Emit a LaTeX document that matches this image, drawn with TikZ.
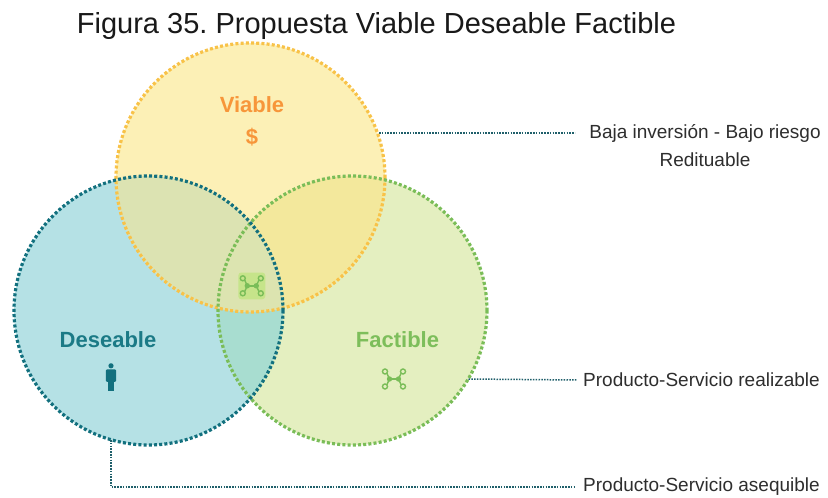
\documentclass[tikz,border=0pt]{standalone}
\usepackage{fontspec}
\setmainfont{Liberation Sans}
\frenchspacing
\definecolor{vAlone}{HTML}{FCF0B6}
\definecolor{dAlone}{HTML}{B5E1E5}
\definecolor{fAlone}{HTML}{E4EFC0}
\definecolor{dfCol}{HTML}{A8DDD0}
\definecolor{dvCol}{HTML}{DCE3B2}
\definecolor{fvCol}{HTML}{F3E89C}
\definecolor{dfvCol}{HTML}{DCE4B0}
\definecolor{vLine}{HTML}{F8C248}
\definecolor{dLine}{HTML}{12707E}
\definecolor{fLine}{HTML}{7ABD58}
\definecolor{vText}{HTML}{F7963A}
\definecolor{dText}{HTML}{1B7A86}
\definecolor{fText}{HTML}{7DBE5B}
\definecolor{leadCol}{HTML}{1F5F6A}
\definecolor{lblText}{HTML}{2E2E2E}
\definecolor{iconBox}{HTML}{C6E48A}
\tikzset{
  ring/.style={line width=3.2pt, dash pattern=on 3pt off 2.2pt},
  leader/.style={draw=leadCol, line width=1.5pt, dash pattern=on 1.5pt off 1.3pt},
  title/.style={font=\fontsize{29}{34}\selectfont, text=black!90},
  setname/.style={font=\fontsize{22}{26}\selectfont\bfseries},
  lbl/.style={font=\fontsize{19}{28}\selectfont, text=lblText, align=center, inner sep=0pt},
}
\newcommand{\droneicon}[2]{%
  \begin{scope}[shift={(#1,#2)}]
    \draw[fLine, line width=1.4pt] (-7.2,-5.9) -- (-4.5,0) -- (-7.2,5.9);
    \draw[fLine, line width=1.4pt] (7.2,-5.9) -- (4.5,0) -- (7.2,5.9);
    \draw[fLine, line width=1.8pt] (-4.5,0) -- (4.5,0);
    \fill[fLine] (-4.5,0) circle (2.7);
    \fill[fLine] (4.5,0) circle (2.7);
    \foreach \sx in {-9,9} \foreach \sy in {-7.5,7.5}
      \draw[fLine, line width=1.4pt] (\sx,\sy) circle (2.5);
  \end{scope}}
\begin{document}
\begin{tikzpicture}[x=1pt,y=-1pt]
\useasboundingbox (0,0) rectangle (828,498);
\fill[white] (0,0) rectangle (828,498);
% circle geometry
\coordinate (cv) at (250.5,177.5);
\coordinate (cd) at (148.5,310.5);
\coordinate (cf) at (352.5,310.5);
\def\R{134.5}
% region fills
\fill[dAlone] (cd) circle (\R);
\fill[fAlone] (cf) circle (\R);
\fill[vAlone] (cv) circle (\R);
\begin{scope}
  \clip (cd) circle (\R);
  \fill[dfCol] (cf) circle (\R);
\end{scope}
\begin{scope}
  \clip (cd) circle (\R);
  \fill[dvCol] (cv) circle (\R);
\end{scope}
\begin{scope}
  \clip (cf) circle (\R);
  \fill[fvCol] (cv) circle (\R);
\end{scope}
\begin{scope}
  \clip (cd) circle (\R);
  \clip (cf) circle (\R);
  \fill[dfvCol] (cv) circle (\R);
\end{scope}
% borders
\draw[ring, vLine] (cv) circle (\R);
\draw[ring, fLine] (cf) circle (\R);
\draw[ring, dLine] (cd) circle (\R);
% title
\node[title, anchor=base] (ttl) at (376.5,33) {Figura 35. Propuesta Viable Deseable Factible};
% set names
\node[setname, text=vText] (vname) at (252,105) {Viable};
\node[setname, text=vText] (vsym) at (252,137) {\$};
\node[setname, text=dText] (dname) at (108,340) {Deseable};
\node[setname, text=fText] (fname) at (397.5,340) {Factible};
% person icon
\begin{scope}[dLine]
  \fill (111,365.8) circle (2.6);
  \fill[rounded corners=1.2pt] (105.8,369.3) rectangle (116.2,381.8);
  \fill (108.2,380) rectangle (114,391);
\end{scope}
% factible icon
\droneicon{394}{379}
% centre icon
\fill[iconBox, rounded corners=3pt] (238.3,272.5) rectangle (265.3,299.3);
\droneicon{251.8}{285.8}
% labels
\node[lbl, anchor=north] (lv) at (705,124) {Baja inversión - Bajo riesgo\\Redituable};
\node[lbl, anchor=west] (lf) at (583,380) {Producto-Servicio realizable};
\node[lbl, anchor=west] (ld) at (583,487) {Producto-Servicio asequible};
% leader connectors
\coordinate (vEdge) at (379,133);
\coordinate (vEnd) at (575,133);
\coordinate (fEdge) at (468.5,379);
\coordinate (dEdge) at (111,440);
\coordinate (dCorner) at (111,487);
\draw[leader] (vEdge) -- (vEnd);
\draw[leader] (fEdge) -- ([xshift=-6pt]lf.west);
\draw[leader] (dEdge) -- (dCorner) -- ([xshift=-8pt]ld.west);
\end{tikzpicture}
\end{document}
